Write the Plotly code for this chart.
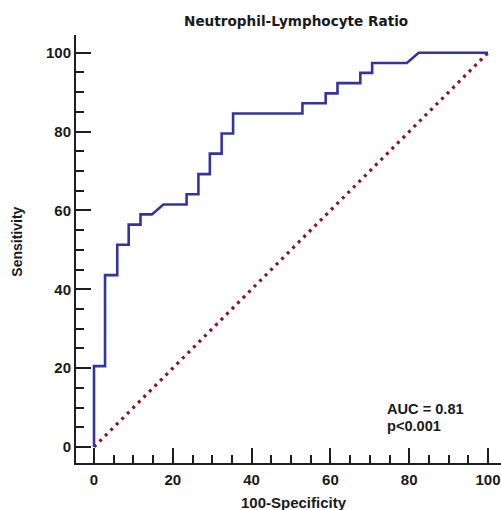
import plotly.graph_objects as go

# ROC curve vertices (100-Specificity, Sensitivity)
fpr = [0, 0, 2.8, 2.8, 5.9, 5.9, 8.8, 8.8, 11.8, 11.8, 14.7, 17.6, 23.5, 23.5,
       26.5, 26.5, 29.4, 29.4, 32.4, 32.4, 35.3, 35.3, 52.9, 52.9, 58.8, 58.8,
       61.8, 61.8, 67.6, 67.6, 70.6, 70.6, 79.4, 82.4, 100]
tpr = [0, 20.5, 20.5, 43.6, 43.6, 51.3, 51.3, 56.4, 56.4, 59.0, 59.0, 61.5, 61.5, 64.1,
       64.1, 69.2, 69.2, 74.4, 74.4, 79.5, 79.5, 84.6, 84.6, 87.2, 87.2, 89.7,
       89.7, 92.3, 92.3, 94.9, 94.9, 97.4, 97.4, 100, 100]
ref_x = [0, 100]
ref_y = [0, 100]
tick_vals = [0, 20, 40, 60, 80, 100]
tick_text = ["0", "20", "40", "60", "80", "100"]

title_text = "Neutrophil-Lymphocyte Ratio"
x_title = "100-Specificity"
y_title = "Sensitivity"
auc_text = "AUC = 0.81"
p_text = "p<0.001"

AX = "#1e1e1e"
FONT = "Liberation Sans, Arial, sans-serif"

fig = go.Figure()
fig.add_trace(go.Scatter(x=ref_x, y=ref_y, mode="lines",
                         line=dict(color="#851822", width=3.2, dash="3px,4.8px"),
                         hoverinfo="skip"))
fig.add_trace(go.Scatter(x=fpr, y=tpr, mode="lines",
                         line=dict(color="#34349E", width=2.6),
                         hoverinfo="skip"))

axis_common = dict(
    showline=True, linecolor=AX, linewidth=2,
    ticks="inside", ticklen=15, tickwidth=2, tickcolor=AX,
    tickvals=tick_vals, ticktext=tick_text,
    tickfont=dict(family=FONT, size=15, color="#1a1a1a", weight="bold"),
    showgrid=False, zeroline=False, mirror=False,
    minor=dict(ticks="inside", dtick=5, tick0=0, ticklen=8, tickwidth=1.5,
               tickcolor=AX, showgrid=False),
    fixedrange=True,
)

fig.update_layout(
    width=501, height=510,
    margin=dict(l=76, r=0, t=35, b=47),
    paper_bgcolor="white", plot_bgcolor="white",
    showlegend=False,
    xaxis=dict(range=[-4.57, 103.3], ticklabelstandoff=2, **axis_common),
    yaxis=dict(range=[-4.06, 104.5], **axis_common),
)

fig.add_annotation(text=title_text, xref="paper", yref="paper",
                   x=0.5167, y=1.0327, xanchor="center", yanchor="middle",
                   showarrow=False,
                   font=dict(family="DejaVu Sans, Verdana, sans-serif", size=13.6,
                             color="#1a1a1a", weight="bold"))
fig.add_annotation(text=x_title, xref="paper", yref="paper",
                   x=0.513, y=-0.092, xanchor="center", yanchor="middle",
                   showarrow=False,
                   font=dict(family=FONT, size=15, color="#1a1a1a", weight="bold"))
fig.add_annotation(text=y_title, xref="paper", yref="paper",
                   x=-0.1376, y=0.516, xanchor="center", yanchor="middle",
                   textangle=-90, showarrow=False,
                   font=dict(family=FONT, size=14, color="#1a1a1a", weight="bold"))
fig.add_annotation(text=auc_text, xref="x", yref="y",
                   x=74.1, y=9.7, xanchor="left", yanchor="middle",
                   showarrow=False, borderpad=0,
                   font=dict(family=FONT, size=14.6, color="#1a1a1a", weight="bold"))
fig.add_annotation(text=p_text, xref="x", yref="y",
                   x=74.1, y=5.3, xanchor="left", yanchor="middle",
                   showarrow=False, borderpad=0,
                   font=dict(family=FONT, size=14.6, color="#1a1a1a", weight="bold"))

fig.write_html("out.html")
